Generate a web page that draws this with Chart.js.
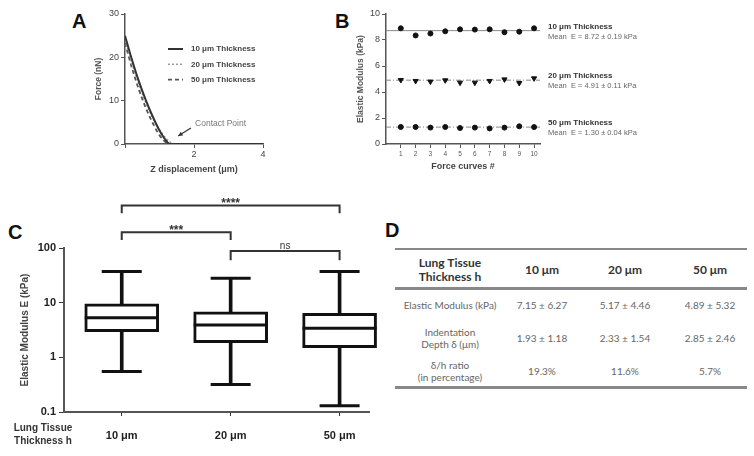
<!DOCTYPE html>
<html>
<head>
<meta charset="utf-8">
<script src="https://cdn.jsdelivr.net/npm/chart.js@4.4.0/dist/chart.umd.min.js"></script>
<style>
body{margin:0;background:#fff;width:754px;height:456px;position:relative;overflow:hidden;font-family:"Liberation Sans",Arial,sans-serif}
canvas{position:absolute}
.letter{position:absolute;font-weight:bold;color:#111;font-size:20px;line-height:20px}
.rule{position:absolute;left:395px;width:352px;background:#888}
.cell{position:absolute;width:130px;text-align:center;font-family:Lato,"Open Sans",sans-serif}
.head{font-weight:bold;color:#333;font-size:12px;line-height:13.5px}
.body{color:#666;font-size:10px;line-height:12.5px}
</style>
</head>
<body>
<div class="letter" style="left:72px;top:11px">A</div>
<div class="letter" style="left:335px;top:11px">B</div>
<div class="letter" style="left:8px;top:222px">C</div>
<div class="letter" style="left:385px;top:220px">D</div>

<canvas id="chartA" width="220" height="180" style="left:60px;top:0px"></canvas>
<canvas id="chartB" width="474" height="180" style="left:280px;top:0px"></canvas>
<canvas id="chartC" width="380" height="276" style="left:0px;top:180px"></canvas>
<div id="tableD"></div>

<script>
// panel A: force vs z displacement
const zDisp = [0, 0.2, 0.4, 0.6, 0.8, 1.0, 1.1, 1.2, 1.3, 1.4, 1.5, 2, 3, 4];
const force10 = [25, 19.5, 14.5, 10.2, 6.4, 3.1, 1.8, 0.7, 0, 0, 0, 0, 0, 0];
const force20 = [24, 18.6, 13.8, 9.6, 6.1, 3.3, 2.2, 1.2, 0.5, 0.1, 0, 0, 0, 0];
const force50 = [23.3, 17.6, 12.6, 8.4, 4.9, 2.0, 1.0, 0.3, 0, 0, 0, 0, 0, 0];
const thickLabels = ['10 μm Thickness', '20 μm Thickness', '50 μm Thickness'];
const contactTip = [1.54, 1.85];
const contactTail = [1.91, 3.7];
const contactText = [2.03, 4.6];

// panel B: elastic modulus per force curve
const curveNo = [1, 2, 3, 4, 5, 6, 7, 8, 9, 10];
const modulus10 = [8.9, 8.35, 8.5, 8.67, 8.82, 8.8, 8.82, 8.6, 8.64, 8.9];
const modulus20 = [4.92, 4.85, 4.8, 4.9, 4.72, 4.72, 4.85, 4.97, 4.69, 5.05];
const modulus50 = [1.31, 1.31, 1.26, 1.31, 1.23, 1.26, 1.2, 1.26, 1.36, 1.3];
const meanE = [8.72, 4.91, 1.30];
const sdE = [0.19, 0.11, 0.04];

// panel C: box plot of E
const groups = ['10 μm', '20 μm', '50 μm'];
const eMin = [0.55, 0.32, 0.13];
const eQ1 = [2.95, 1.85, 1.5];
const eMed = [5.3, 3.9, 3.4];
const eQ3 = [9.5, 6.8, 6.4];
const eMax = [37, 28, 37];
const sigFrom = [1, 1, 2];
const sigTo = [3, 2, 3];
const sigTop = [600, 195, 88];
const sigFoot = [430, 140, 60];
const sigText = ['****', '***', 'ns'];

// panel D: table
const tableHead = [['Lung Tissue', 'Thickness h'], ['10 μm'], ['20 μm'], ['50 μm']];
const rowNames = [['Elastic Modulus (kPa)'], ['Indentation', 'Depth δ (μm)'], ['δ/h ratio', '(in percentage)']];
const rowValues = [
  ['7.15 ± 6.27', '5.17 ± 4.46', '4.89 ± 5.32'],
  ['1.93 ± 1.18', '2.33 ± 1.54', '2.85 ± 2.46'],
  ['19.3%', '11.6%', '5.7%']
];

Chart.defaults.font.family = '"Liberation Sans", Arial, sans-serif';
Chart.defaults.animation = false;
Chart.defaults.plugins.legend.display = false;
Chart.defaults.plugins.tooltip.enabled = false;

const axisGray = '#555';
const FONT = '"Liberation Sans", Arial, sans-serif';

function fixedTicks(vals){ return s => { s.ticks = vals.map(v => ({value: v})) } }

const legendA = {
  id: 'legendA',
  afterDraw(chart){
    const {ctx, chartArea: a, scales: {x, y}} = chart;
    ctx.save();
    chart.data.datasets.forEach((ds, i) => {
      const ly = a.top + 35 + i * 15.3;
      ctx.strokeStyle = ds.borderColor;
      ctx.lineWidth = ds.borderWidth;
      ctx.setLineDash(ds.borderDash || []);
      ctx.beginPath(); ctx.moveTo(a.left + 43, ly); ctx.lineTo(a.left + 58, ly); ctx.stroke();
      ctx.setLineDash([]);
      ctx.fillStyle = '#444';
      ctx.font = 'bold 8px ' + FONT;
      ctx.textBaseline = 'middle';
      ctx.fillText(ds.label, a.left + 66, ly);
    });
    // contact point arrow
    const tx = x.getPixelForValue(contactTip[0]), ty = y.getPixelForValue(contactTip[1]);
    const sx = x.getPixelForValue(contactTail[0]), sy = y.getPixelForValue(contactTail[1]);
    ctx.strokeStyle = '#333'; ctx.lineWidth = 1.2;
    ctx.beginPath(); ctx.moveTo(sx, sy); ctx.lineTo(tx, ty); ctx.stroke();
    const ang = Math.atan2(ty - sy, tx - sx);
    ctx.fillStyle = '#333';
    ctx.beginPath();
    ctx.moveTo(tx, ty);
    ctx.lineTo(tx - 5 * Math.cos(ang - 0.45), ty - 5 * Math.sin(ang - 0.45));
    ctx.lineTo(tx - 5 * Math.cos(ang + 0.45), ty - 5 * Math.sin(ang + 0.45));
    ctx.fill();
    ctx.fillStyle = '#777';
    ctx.font = '8.5px ' + FONT;
    ctx.fillText('Contact Point', x.getPixelForValue(contactText[0]), y.getPixelForValue(contactText[1]));
    ctx.restore();
  }
};

new Chart(document.getElementById('chartA'), {
  type: 'line',
  data: {
    datasets: [
      {label: thickLabels[0], data: zDisp.map((z, i) => ({x: z, y: force10[i]})), borderColor: '#333', borderWidth: 2},
      {label: thickLabels[1], data: zDisp.map((z, i) => ({x: z, y: force20[i]})), borderColor: '#999', borderWidth: 1.5, borderDash: [2, 2]},
      {label: thickLabels[2], data: zDisp.map((z, i) => ({x: z, y: force50[i]})), borderColor: '#555', borderWidth: 1.8, borderDash: [4, 3]}
    ]
  },
  options: {
    responsive: false,
    layout: {autoPadding: false, padding: {left: 28, top: 14, right: 17, bottom: 0}},
    elements: {point: {radius: 0}, line: {cubicInterpolationMode: 'monotone'}},
    scales: {
      x: {
        type: 'linear', min: 0, max: 4,
        afterFit: s => { s.height = 36 },
        afterBuildTicks: fixedTicks([0, 2, 4]),
        ticks: {callback: v => v === 0 ? '' : v, font: {size: 9}, color: '#444', padding: 1},
        grid: {drawOnChartArea: false, tickLength: 4, color: axisGray},
        border: {color: axisGray, width: 1.5},
        title: {display: true, text: 'Z displacement (μm)', font: {size: 9, weight: 'bold'}, color: '#444', padding: {top: 0, bottom: 5}}
      },
      y: {
        min: 0, max: 30,
        afterFit: s => { s.width = 37 },
        afterBuildTicks: fixedTicks([0, 10, 20, 30]),
        ticks: {font: {size: 9}, color: '#444', padding: 2},
        grid: {drawOnChartArea: false, tickLength: 4, color: axisGray},
        border: {color: axisGray, width: 1.5},
        title: {display: true, text: 'Force (nN)', font: {size: 8.5, weight: 'bold'}, color: '#555', padding: {top: 6, bottom: 0}}
      }
    }
  },
  plugins: [legendA]
});

// panel B
const xMinB = 0, xMaxB = 10.4;
const meanTextB = {
  id: 'meanTextB',
  afterDraw(chart){
    const {ctx, chartArea: a, scales: {y}} = chart;
    ctx.save();
    ctx.textBaseline = 'middle';
    meanE.forEach((m, k) => {
      const py = y.getPixelForValue(m);
      ctx.fillStyle = '#333';
      ctx.font = 'bold 8px ' + FONT;
      ctx.fillText(thickLabels[k], a.right + 8, py - 4);
      ctx.fillStyle = '#666';
      ctx.font = '7.5px ' + FONT;
      ctx.fillText('Mean  E = ' + m.toFixed(2) + ' ± ' + sdE[k].toFixed(2) + ' kPa', a.right + 8, py + 6);
    });
    ctx.restore();
  }
};

function meanLine(k){
  return {
    type: 'line', data: [{x: xMinB, y: meanE[k]}, {x: xMaxB, y: meanE[k]}],
    borderColor: '#888', borderWidth: 1, borderDash: k === 0 ? [] : [5, 2, 1, 2], pointRadius: 0, order: 5
  };
}

new Chart(document.getElementById('chartB'), {
  type: 'scatter',
  data: {
    datasets: [
      {data: curveNo.map((c, i) => ({x: c, y: modulus10[i]})), pointStyle: 'circle', pointRadius: 2.5, backgroundColor: '#111', borderColor: '#111'},
      {data: curveNo.map((c, i) => ({x: c, y: modulus20[i]})), pointStyle: 'triangle', rotation: 180, pointRadius: 3, backgroundColor: '#111', borderColor: '#111'},
      {data: curveNo.map((c, i) => ({x: c, y: modulus50[i]})), pointStyle: 'circle', pointRadius: 2.5, backgroundColor: '#111', borderColor: '#111'},
      meanLine(0), meanLine(1), meanLine(2)
    ]
  },
  options: {
    responsive: false,
    layout: {autoPadding: false, padding: {left: 71, top: 14, right: 214, bottom: 0}},
    scales: {
      x: {
        type: 'linear', min: xMinB, max: xMaxB,
        afterFit: s => { s.height = 36 },
        afterBuildTicks: fixedTicks(curveNo),
        ticks: {font: {size: 6.5}, color: '#555', padding: 2},
        grid: {drawOnChartArea: false, tickLength: 4, color: axisGray},
        border: {color: axisGray, width: 1.5},
        title: {display: true, text: 'Force curves #', font: {size: 9, weight: 'bold'}, color: '#444', padding: {top: 0, bottom: 8}}
      },
      y: {
        min: 0, max: 10,
        afterFit: s => { s.width = 35 },
        afterBuildTicks: fixedTicks([0, 2, 4, 6, 8, 10]),
        ticks: {font: {size: 9}, color: '#444', padding: 2},
        grid: {drawOnChartArea: false, tickLength: 4, color: axisGray},
        border: {color: axisGray, width: 1.5},
        title: {display: true, text: 'Elastic Modulus (kPa)', font: {size: 8.5, weight: 'bold'}, color: '#555', padding: {top: 5, bottom: 0}}
      }
    }
  },
  plugins: [meanTextB]
});

// panel C
const bracketsC = {
  id: 'bracketsC',
  afterDraw(chart){
    const {ctx, chartArea: a, scales: {x, y}} = chart;
    ctx.save();
    ctx.strokeStyle = '#333'; ctx.lineWidth = 2;
    ctx.textAlign = 'center'; ctx.fillStyle = '#333';
    sigText.forEach((t, k) => {
      const x1 = x.getPixelForValue(sigFrom[k]), x2 = x.getPixelForValue(sigTo[k]);
      const yt = y.getPixelForValue(sigTop[k]), yf = y.getPixelForValue(sigFoot[k]);
      ctx.beginPath(); ctx.moveTo(x1, yf); ctx.lineTo(x1, yt); ctx.lineTo(x2, yt); ctx.lineTo(x2, yf); ctx.stroke();
      ctx.textBaseline = 'alphabetic';
      if (t === 'ns') {
        ctx.font = '10px ' + FONT;
        ctx.fillText(t, (x1 + x2) / 2, yt - 2);
      } else {
        ctx.font = 'bold 12px ' + FONT;
        ctx.fillText(t, (x1 + x2) / 2, yt + 2);
      }
    });
    ctx.font = 'bold 10px ' + FONT;
    ctx.textBaseline = 'middle';
    ctx.fillText('Lung Tissue', a.left - 21, x.top + 16);
    ctx.fillText('Thickness h', a.left - 21, x.top + 29.5);
    ctx.restore();
  }
};

new Chart(document.getElementById('chartC'), {
  type: 'bar',
  data: {
    datasets: [
      {type: 'scatter', data: groups.map((g, i) => ({x: i + 1, y: eMed[i]})), pointStyle: 'line', pointRadius: 37, borderColor: '#111', borderWidth: 3, order: 1, clip: false},
      {type: 'scatter', data: groups.map((g, i) => ({x: i + 1, y: eMin[i]})).concat(groups.map((g, i) => ({x: i + 1, y: eMax[i]}))), pointStyle: 'line', pointRadius: 20, borderColor: '#111', borderWidth: 3, order: 1, clip: false},
      {data: groups.map((g, i) => ({x: i + 1, y: [eQ1[i], eQ3[i]]})), backgroundColor: '#fff', borderColor: '#111', borderWidth: 3, borderSkipped: false, barThickness: 74, grouped: false, order: 2, clip: false},
      {data: groups.map((g, i) => ({x: i + 1, y: [eMin[i], eQ1[i]]})), backgroundColor: '#111', borderWidth: 0, barThickness: 3, grouped: false, order: 3},
      {data: groups.map((g, i) => ({x: i + 1, y: [eQ3[i], eMax[i]]})), backgroundColor: '#111', borderWidth: 0, barThickness: 3, grouped: false, order: 3}
    ]
  },
  options: {
    responsive: false,
    layout: {autoPadding: false, padding: {left: 16, top: 68, right: 11, bottom: 0}},
    scales: {
      x: {
        type: 'linear', min: 0.47, max: 3.27, offset: false,
        afterFit: s => { s.height = 44 },
        afterBuildTicks: fixedTicks([1, 2, 3]),
        ticks: {callback: v => groups[v - 1], font: {size: 11, weight: 'bold'}, color: '#222', padding: 13},
        grid: {drawOnChartArea: false, tickLength: 4, color: '#333', offset: false},
        border: {color: '#555', width: 2}
      },
      y: {
        type: 'logarithmic', min: 0.1, max: 100,
        afterFit: s => { s.width = 48 },
        afterBuildTicks: fixedTicks([0.1, 1, 10, 100]),
        ticks: {callback: v => String(v), font: {size: 11, weight: 'bold'}, color: '#222', padding: 3},
        grid: {drawOnChartArea: false, tickLength: 5, color: '#333'},
        border: {color: '#555', width: 2},
        title: {display: true, text: 'Elastic Modulus E (kPa)', font: {size: 10, weight: 'bold'}, color: '#444', padding: {top: 3, bottom: 0}}
      }
    }
  },
  plugins: [bracketsC]
});

// panel D table (HTML)
const colCenters = [450, 542, 625, 710];
const rowCenters = [305, 338, 371];
const tableD = document.getElementById('tableD');
function addCell(lines, cx, cy, cls){
  const d = document.createElement('div');
  d.className = 'cell ' + cls;
  d.innerHTML = lines.join('<br>');
  const lh = cls === 'head' ? 13.5 : 12.5;
  d.style.left = (cx - 65) + 'px';
  d.style.top = (cy - lines.length * lh / 2) + 'px';
  tableD.appendChild(d);
}
tableHead.forEach((h, c) => addCell(h, colCenters[c], 269.5, 'head'));
rowNames.forEach((r, i) => {
  addCell(r, colCenters[0], rowCenters[i], 'body');
  rowValues[i].forEach((v, c) => addCell([v], colCenters[c + 1], rowCenters[i], 'body'));
});
[[248, 2], [287, 2.5], [386, 3]].forEach(([top, h]) => {
  const r = document.createElement('div');
  r.className = 'rule';
  r.style.top = top + 'px';
  r.style.height = h + 'px';
  tableD.appendChild(r);
});
</script>
</body>
</html>
